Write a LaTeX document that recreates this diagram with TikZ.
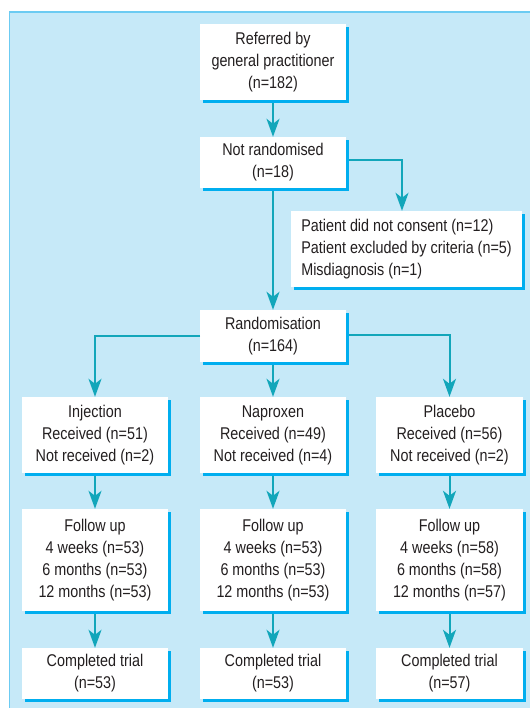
\documentclass[tikz,border=0pt]{standalone}
\usepackage{fontspec}
\setmainfont[FakeStretch=0.845]{Liberation Sans}
\usetikzlibrary{shadows,arrows.meta}
\definecolor{panelbg}{HTML}{C6E9F8}
\definecolor{panelline}{HTML}{6CCBF2}
\definecolor{shadowc}{HTML}{00AEEF}
\definecolor{arrowc}{HTML}{12A6BA}
\definecolor{txt}{HTML}{231F20}
\tikzset{
  box/.style={fill=white, inner sep=0pt, align=center, text=txt,
    font=\fontsize{17}{22}\selectfont,
    drop shadow={shadow xshift=2.5pt, shadow yshift=-3pt, fill=shadowc, opacity=1}},
  conn/.style={draw=arrowc, line width=2pt, -{Stealth[length=18pt,width=13pt,inset=5pt]}},
}
\begin{document}
\begin{tikzpicture}[x=1pt,y=-1pt]
\useasboundingbox (0,0) rectangle (530,708);
\fill[white] (0,0) rectangle (530,708);
\fill[panelbg] (9.5,12) rectangle (530,708);
\draw[panelline, line width=1.5pt] (9.5,708) -- (9.5,12) -- (530,12);

\coordinate (nrR) at (346,160);
\coordinate (nrTurn) at (402,160);
\coordinate (rL) at (200,336);
\coordinate (rLturn) at (95,336);
\coordinate (rR) at (346,335);
\coordinate (rRturn) at (449.5,335);

\node[box, minimum width=146pt, minimum height=76pt] (ref) at (273,62) {Referred by\\general practitioner\\(n=182)};
\node[box, minimum width=146pt, minimum height=51pt] (notr) at (273,162.5) {Not randomised\\(n=18)};
\node[box, minimum width=231pt, minimum height=76pt, align=left] (excl) at (406.5,249) {Patient did not consent (n=12)\\Patient excluded by criteria (n=5)\\Misdiagnosis (n=1)};
\node[box, minimum width=146pt, minimum height=52pt] (rand) at (273,336) {Randomisation\\(n=164)};

\node[box, minimum width=146pt, minimum height=76pt] (inj) at (95,435) {Injection\\Received (n=51)\\Not received (n=2)};
\node[box, minimum width=146pt, minimum height=76pt] (nap) at (273,435) {Naproxen\\Received (n=49)\\Not received (n=4)};
\node[box, minimum width=147pt, minimum height=76pt] (pla) at (449.5,435) {Placebo\\Received (n=56)\\Not received (n=2)};

\node[box, minimum width=146pt, minimum height=102pt] (fu1) at (95,560) {Follow up\\4 weeks (n=53)\\6 months (n=53)\\12 months (n=53)};
\node[box, minimum width=146pt, minimum height=102pt] (fu2) at (273,560) {Follow up\\4 weeks (n=53)\\6 months (n=53)\\12 months (n=53)};
\node[box, minimum width=147pt, minimum height=102pt] (fu3) at (449.5,560) {Follow up\\4 weeks (n=58)\\6 months (n=58)\\12 months (n=57)};

\node[box, minimum width=146pt, minimum height=51pt] (ct1) at (95,673.5) {Completed trial\\(n=53)};
\node[box, minimum width=146pt, minimum height=51pt] (ct2) at (273,673.5) {Completed trial\\(n=53)};
\node[box, minimum width=147pt, minimum height=51pt] (ct3) at (449.5,673.5) {Completed trial\\(n=57)};

\draw[conn] ([yshift=-3pt]ref.south) -- (notr.north);
\draw[conn] ([xshift=3pt]nrR) -- (nrTurn) -- (nrTurn |- excl.north);
\draw[conn] ([yshift=-3pt]notr.south) -- (rand.north);
\draw[conn] (rL) -- (rLturn) -- (inj.north);
\draw[conn] ([xshift=3pt]rR) -- (rRturn) -- (pla.north);
\draw[conn] ([yshift=-3pt]rand.south) -- (nap.north);
\draw[conn] ([yshift=-3pt]inj.south) -- (fu1.north);
\draw[conn] ([yshift=-3pt]nap.south) -- (fu2.north);
\draw[conn] ([yshift=-3pt]pla.south) -- (fu3.north);
\draw[conn] ([yshift=-3pt]fu1.south) -- (ct1.north);
\draw[conn] ([yshift=-3pt]fu2.south) -- (ct2.north);
\draw[conn] ([yshift=-3pt]fu3.south) -- (ct3.north);
\end{tikzpicture}
\end{document}
